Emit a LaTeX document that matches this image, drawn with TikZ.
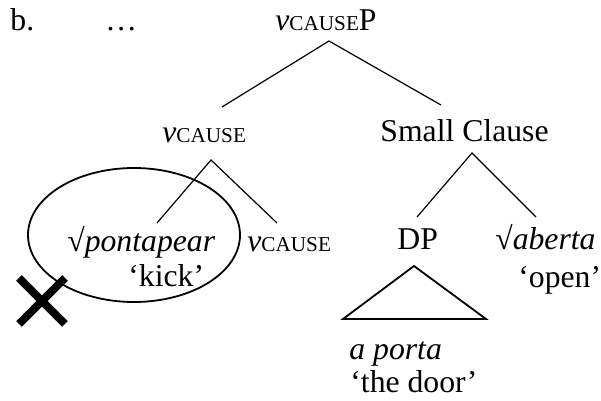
\documentclass[tikz,border=0pt]{standalone}
\usepackage{fontspec}
\setmainfont{Liberation Serif}
\usetikzlibrary{shapes.geometric}
\begin{document}
\begin{tikzpicture}[x=0.5pt,y=-0.5pt,
  lbl/.style={anchor=base west,inner sep=0pt,font=\fontsize{15.85}{19}\selectfont},
  edge/.style={line width=0.6pt},
  thick edge/.style={line width=0.9pt}]
\newcommand{\smc}[1]{{\fontsize{10.6}{13}\selectfont #1}}
\useasboundingbox (0,0) rectangle (601,401);
% texts
\node[lbl] (lab) at (10,31) {b.};
\node[lbl] (dots) at (105,31) {…};
\node[lbl] (root) at (275,31) {\textit{v}\smc{CAUSE}P};
\node[lbl] (vc) at (162,143) {\textit{v}\smc{CAUSE}};
\node[lbl] (sc) at (380,142) {Small Clause};
\node[lbl] (pont) at (67,252) {√\textit{pontapear}};
\node[lbl] (kick) at (128,287) {‘kick’};
\node[lbl] (vc2) at (247,252) {\textit{v}\smc{CAUSE}};
\node[lbl] (dp) at (397,250) {DP};
\node[lbl] (ab) at (495,250) {√\textit{aberta}};
\node[lbl] (open) at (518,288) {‘open’};
\node[lbl] (ap) at (349,360) {\textit{a porta}};
\node[lbl] (door) at (350,393) {‘the door’};
% branch points
\coordinate (rootb) at (329,41);
\coordinate (vct) at (222,107);
\coordinate (sct) at (441,105);
\coordinate (vcb) at (211,160);
\coordinate (pontt) at (157,223);
\coordinate (vc2t) at (277,223);
\coordinate (scb) at (472,153);
\coordinate (dpt) at (417,217);
\coordinate (abt) at (536,217);
\draw[edge] (vct) -- (rootb) -- (sct);
\draw[edge] (pontt) -- (vcb) -- (vc2t);
\draw[edge] (dpt) -- (scb) -- (abt);
% triangle
\coordinate (tria) at (414,266);
\coordinate (tril) at (343,319);
\coordinate (trir) at (486,319);
\draw[thick edge] (tria) -- (tril) -- (trir) -- cycle;
% ellipse
\node[draw,thick edge,ellipse,minimum width=106pt,minimum height=67pt,inner sep=0pt] (ell) at (134,235) {};
% cross
\coordinate (xc) at (42,301);
\draw[line width=4pt] ([shift={(-23,-23)}]xc) -- ([shift={(23,23)}]xc);
\draw[line width=4pt] ([shift={(-23,23)}]xc) -- ([shift={(23,-23)}]xc);
\end{tikzpicture}
\end{document}
